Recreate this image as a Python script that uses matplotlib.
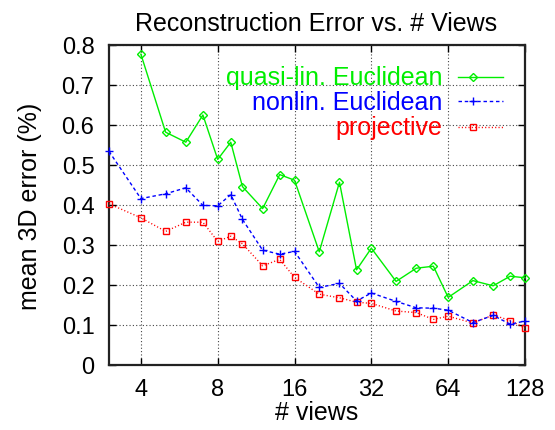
import matplotlib
matplotlib.use("Agg")
import matplotlib.pyplot as plt
from matplotlib.lines import Line2D
from matplotlib.ticker import FixedLocator, NullLocator

plt.rcParams['font.family'] = ['Liberation Sans', 'DejaVu Sans']

views = [3, 4, 5, 6, 7, 8, 9, 10, 12, 14, 16, 20, 24, 28, 32, 40, 48, 56, 64, 80, 96, 112, 128]
quasi_views = views[1:]
quasi_lin = [0.777, 0.582, 0.557, 0.625, 0.514, 0.557, 0.446, 0.391, 0.476, 0.462, 0.283,
             0.457, 0.238, 0.292, 0.209, 0.242, 0.247, 0.169, 0.211, 0.198, 0.222, 0.218]
nonlin = [0.534, 0.416, 0.428, 0.443, 0.399, 0.398, 0.426, 0.364, 0.287, 0.277, 0.284, 0.194,
          0.204, 0.160, 0.180, 0.159, 0.143, 0.142, 0.137, 0.106, 0.124, 0.102, 0.110]
projective = [0.403, 0.368, 0.334, 0.357, 0.357, 0.309, 0.322, 0.303, 0.248, 0.264, 0.219, 0.177,
              0.168, 0.157, 0.154, 0.135, 0.131, 0.114, 0.122, 0.105, 0.125, 0.111, 0.092]
series_names = ['quasi-lin. Euclidean', 'nonlin. Euclidean', 'projective']
xticks = [4, 8, 16, 32, 64, 128]
yticks = [0, 0.1, 0.2, 0.3, 0.4, 0.5, 0.6, 0.7, 0.8]
ytick_labels = ['0', '0.1', '0.2', '0.3', '0.4', '0.5', '0.6', '0.7', '0.8']

GREEN, BLUE, RED = '#00ee00', '#0000ff', '#ff0000'
FS = 18
TFS = 17

W, H = 555, 431
fig = plt.figure(figsize=(W/100, H/100), dpi=100)
L, R, T, B = 109, 525, 46, 366
ax = fig.add_axes([L/W, 1 - B/H, (R-L)/W, (B-T)/H])

def fx(px):
    return px / W

def fy(py):
    return 1 - py / H

ax.set_xscale('log', base=2)
ax.set_xlim(3, 128)
ax.set_ylim(0, 0.8)

styles = [
    dict(color=GREEN, lw=1.0, ls='-', marker='D', ms=4, mfc='none', mec=GREEN, mew=1.0),
    dict(color=BLUE, lw=1.0, ls=(0, (2.5, 2)), marker='+', ms=6, mec=BLUE, mew=1.0),
    dict(color=RED, lw=1.0, ls=(0, (0.8, 1.6)), marker='s', ms=5, mfc='none', mec=RED, mew=1.0),
]
ax.plot(quasi_views, quasi_lin, clip_on=False, zorder=5, **styles[0])
ax.plot(views, nonlin, clip_on=False, zorder=4, **styles[1])
ax.plot(views, projective, clip_on=False, zorder=3, **styles[2])

ax.xaxis.set_major_locator(FixedLocator(xticks))
ax.xaxis.set_minor_locator(NullLocator())
ax.set_xticklabels([str(v) for v in xticks])
ax.set_yticks(yticks)
ax.set_yticklabels(ytick_labels)

ax.grid(True, which='major', color='#444444', ls=(0, (1, 2)), lw=0.8)
ax.tick_params(direction='in', length=5, width=1.0, top=True, right=True,
               labelsize=TFS, colors='black')
ax.tick_params(axis='x', pad=9.5)
ax.tick_params(axis='y', pad=10.5)
for s in ax.spines.values():
    s.set_linewidth(1.6)
    s.set_color('#222222')

# legend (gnuplot style: right-aligned coloured text, sample to the right)
leg_rows = [77.7, 102.3, 127.7]
for name, st, yl in zip(series_names, styles, leg_rows):
    fig.text(fx(442), fy(yl + 7.5), name, ha='right', va='baseline', fontsize=FS, color=st['color'])
    line_st = {k: v for k, v in st.items() if k not in ('marker', 'ms', 'mfc', 'mec', 'mew')}
    fig.add_artist(Line2D([fx(458), fx(503)], [fy(yl), fy(yl)], **line_st))
    mk_st = {k: v for k, v in st.items() if k in ('marker', 'ms', 'mfc', 'mec', 'mew')}
    fig.add_artist(Line2D([fx(473)], [fy(yl)], ls='none', **mk_st))

fig.text(fx(316.5), fy(31), 'Reconstruction Error vs. # Views', ha='center', va='baseline', fontsize=FS)
fig.text(fx(316.5), fy(420.5), '# views', ha='center', va='baseline', fontsize=FS)
fig.text(fx(37), fy(206.5), 'mean 3D error (%)', ha='center', va='baseline', fontsize=FS,
         rotation=90, rotation_mode='anchor')

fig.savefig('out.png', dpi=100)
